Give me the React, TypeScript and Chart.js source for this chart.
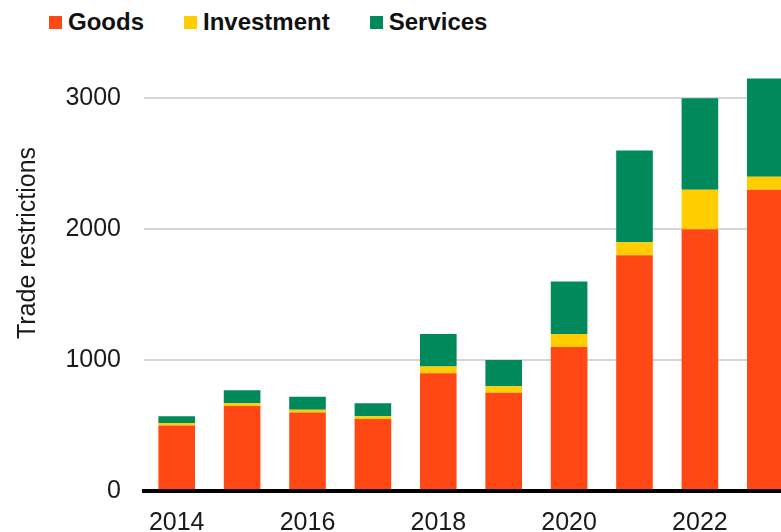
import React, { useEffect, useRef } from "react";
import { Chart, registerables } from "chart.js";

Chart.register(...registerables);

const years = ["2014", "2015", "2016", "2017", "2018", "2019", "2020", "2021", "2022", "2023"];
const goods = [500, 650, 600, 550, 900, 750, 1100, 1800, 2000, 2300];
const investment = [20, 20, 20, 20, 50, 50, 100, 100, 300, 100];
const services = [50, 100, 100, 100, 250, 200, 400, 700, 700, 750];
const yTickValues = [0, 1000, 2000, 3000];
const yMax = 3200;
const yTitle = "Trade restrictions";

const COLORS = { goods: "#ff4814", investment: "#ffcd00", services: "#00895b" };
const FONT = "'Liberation Sans', Arial, sans-serif";

const legendItems = [
  { label: "Goods", color: COLORS.goods },
  { label: "Investment", color: COLORS.investment },
  { label: "Services", color: COLORS.services },
];

const yTitlePlugin = {
  id: "yTitlePlugin",
  afterDraw(chart: any) {
    const ctx = chart.ctx;
    ctx.save();
    ctx.translate(28, 243);
    ctx.rotate(-Math.PI / 2);
    ctx.textAlign = "center";
    ctx.textBaseline = "middle";
    ctx.font = `25px ${FONT}`;
    ctx.fillStyle = "#1a1a1a";
    ctx.fillText(yTitle, 0, 0);
    ctx.restore();
  },
};

export default function App() {
  const ref = useRef<HTMLCanvasElement | null>(null);
  useEffect(() => {
    if (!ref.current) return;
    const chart = new Chart(ref.current, {
      type: "bar",
      data: {
        labels: years,
        datasets: [
          { label: "Goods", data: goods, backgroundColor: COLORS.goods },
          { label: "Investment", data: investment, backgroundColor: COLORS.investment },
          { label: "Services", data: services, backgroundColor: COLORS.services },
        ],
      },
      options: {
        animation: false,
        responsive: false,
        maintainAspectRatio: false,
        devicePixelRatio: 1,
        layout: { padding: { top: 72, left: 0, right: 0, bottom: 0 } },
        plugins: { legend: { display: false }, tooltip: { enabled: false } },
        datasets: { bar: { categoryPercentage: 1, barPercentage: 0.56 } },
        scales: {
          x: {
            stacked: true,
            grid: { display: false, drawTicks: false },
            border: { display: true, color: "#000", width: 4, z: 1 },
            ticks: {
              autoSkip: false,
              maxRotation: 0,
              padding: 17,
              color: "#1a1a1a",
              font: { family: FONT, size: 25 },
              callback: (_v: any, i: number) => (parseInt(years[i]) % 2 === 0 ? years[i] : ""),
            },
            afterFit: (s: any) => {
              s.height = 69;
            },
          },
          y: {
            stacked: true,
            min: 0,
            max: yMax,
            grid: {
              drawTicks: false,
              lineWidth: 2,
              color: (c: any) => (c.tick && c.tick.value === 0 ? "rgba(0,0,0,0)" : "#d5d5dd"),
            },
            border: { display: false },
            ticks: {
              stepSize: 1000,
              padding: 23,
              color: "#1a1a1a",
              font: { family: FONT, size: 25 },
              callback: (v: any) => String(v),
            },
            afterBuildTicks: (s: any) => {
              s.ticks = yTickValues.map((v) => ({ value: v }));
            },
            afterFit: (s: any) => {
              s.width = 144;
            },
          },
        },
      },
      plugins: [yTitlePlugin],
    });
    return () => chart.destroy();
  }, []);

  return (
    <div
      style={{
        position: "absolute",
        left: 0,
        top: 0,
        width: 781,
        height: 532,
        overflow: "hidden",
        background: "#fff",
      }}
    >
      <div
        style={{
          position: "absolute",
          left: 49,
          top: 8,
          display: "flex",
          alignItems: "center",
          fontFamily: FONT,
          fontWeight: 700,
          fontSize: 24,
          lineHeight: "28px",
          color: "#111",
          whiteSpace: "nowrap",
        }}
      >
        {legendItems.map((it, i) => (
          <div key={it.label} style={{ display: "flex", alignItems: "center", marginRight: i < legendItems.length - 1 ? 40 : 0 }}>
            <span style={{ display: "inline-block", width: 13, height: 13, background: it.color, marginRight: 6 }} />
            <span>{it.label}</span>
          </div>
        ))}
      </div>
      <canvas ref={ref} width={798} height={560} style={{ display: "block", position: "absolute", left: 0, top: 0 }} />
    </div>
  );
}
